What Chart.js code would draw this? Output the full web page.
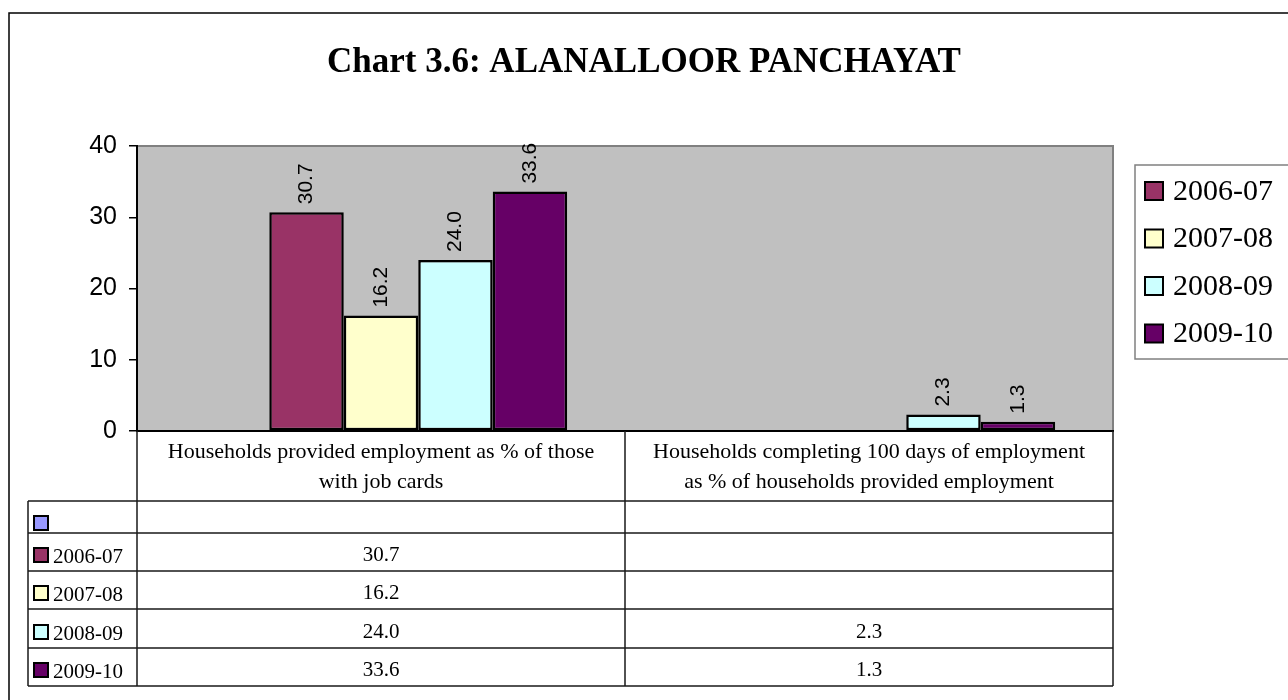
<!DOCTYPE html>
<html>
<head>
<meta charset="utf-8">
<title>Chart 3.6: ALANALLOOR PANCHAYAT</title>
<script src="https://cdn.jsdelivr.net/npm/chart.js@4.4.0/dist/chart.umd.min.js"></script>
<style>
  html, body { margin: 0; padding: 0; background: #fff; }
  #wrap { width: 1288px; height: 700px; }
</style>
</head>
<body>
<div id="wrap"><canvas id="chart" width="1288" height="700"></canvas></div>
<script>
// Chart data
const TITLE = 'Chart 3.6: ALANALLOOR PANCHAYAT';
const categories = [
  ['Households provided employment as % of those', 'with job cards'],
  ['Households completing 100 days of employment', 'as % of households provided employment']
];
const seriesLabels = ['', '2006-07', '2007-08', '2008-09', '2009-10'];
const blankRow = [null, null];
const values0607 = [30.7, null];
const values0708 = [16.2, null];
const values0809 = [24.0, 2.3];
const values0910 = [33.6, 1.3];
const yTicks = [0, 10, 20, 30, 40];

const COLORS = ['#9999FF', '#993366', '#FFFFCC', '#CCFFFF', '#660066'];
const SERIF = '"Liberation Serif", "Times New Roman", serif';
const SANS = '"Liberation Sans", Arial, sans-serif';

const seriesValues = [blankRow, values0607, values0708, values0809, values0910];

// Table rows under the axis (y of each row line)
const ROW_LINES = [501, 533, 571, 609, 648, 686];
const TABLE_LEFT = 28;

const datasets = seriesLabels.map((label, i) => ({
  label,
  data: seriesValues[i],
  backgroundColor: COLORS[i],
  borderColor: '#000',
  borderWidth: 2.5,
  borderSkipped: false,
  categoryPercentage: 0.763,
  barPercentage: 1.0
}));

// plot background + frame
const backdrop = {
  id: 'backdrop',
  beforeDraw(chart) {
    const { ctx, chartArea: a } = chart;
    ctx.save();
    ctx.fillStyle = '#fff';
    ctx.fillRect(0, 0, chart.width, chart.height);
    ctx.fillStyle = '#C0C0C0';
    ctx.fillRect(a.left, a.top, a.right - a.left, a.bottom - a.top);
    ctx.strokeStyle = '#808080';
    ctx.lineWidth = 2;
    ctx.beginPath();
    ctx.moveTo(a.left, a.top);
    ctx.lineTo(a.right, a.top);
    ctx.lineTo(a.right, a.bottom);
    ctx.stroke();
    ctx.restore();
  },
  afterDraw(chart) {
    const ctx = chart.ctx;
    ctx.save();
    // outer frame (runs past right/bottom edge in the reference)
    ctx.strokeStyle = '#000';
    ctx.lineWidth = 1.5;
    ctx.strokeRect(9, 13, 1320, 720);
    // title
    ctx.fillStyle = '#000';
    ctx.font = 'bold 35px ' + SERIF;
    ctx.textAlign = 'center';
    ctx.textBaseline = 'alphabetic';
    ctx.fillText(TITLE, 644, 72);
    ctx.restore();
  }
};

// rotated value labels above bars
const valueLabels = {
  id: 'valueLabels',
  afterDatasetsDraw(chart) {
    const ctx = chart.ctx;
    ctx.save();
    ctx.fillStyle = '#000';
    ctx.font = '21px ' + SANS;
    ctx.textAlign = 'left';
    ctx.textBaseline = 'middle';
    chart.data.datasets.forEach((ds, di) => {
      const meta = chart.getDatasetMeta(di);
      meta.data.forEach((bar, i) => {
        const v = ds.data[i];
        if (v === null || v === undefined) return;
        ctx.save();
        ctx.translate(bar.x, bar.y - 8);
        ctx.rotate(-Math.PI / 2);
        ctx.fillText(v.toFixed(1), 0, 0);
        ctx.restore();
      });
    });
    ctx.restore();
  }
};

// data table under the x axis
const dataTable = {
  id: 'dataTable',
  afterDraw(chart) {
    const { ctx, chartArea: a } = chart;
    const x = chart.scales.x;
    const half = (x.getPixelForValue(1) - x.getPixelForValue(0)) / 2;
    const mid = x.getPixelForValue(0) + half;
    const bottom = ROW_LINES[ROW_LINES.length - 1];

    ctx.save();
    ctx.strokeStyle = '#1a1a1a';
    ctx.lineWidth = 1.5;
    ctx.beginPath();
    [a.left, mid, a.right].forEach(px => {
      ctx.moveTo(px, a.bottom);
      ctx.lineTo(px, bottom);
    });
    ctx.moveTo(TABLE_LEFT, ROW_LINES[0]);
    ctx.lineTo(TABLE_LEFT, bottom);
    ROW_LINES.forEach(y => {
      ctx.moveTo(TABLE_LEFT, y);
      ctx.lineTo(a.right, y);
    });
    ctx.stroke();

    chart.data.datasets.forEach((ds, di) => {
      const rowBottom = ROW_LINES[di + 1];
      // marker
      const mSize = 14;
      const my = ds.label ? rowBottom - 9 - mSize : rowBottom - 3 - mSize;
      ctx.fillStyle = ds.backgroundColor;
      ctx.fillRect(34, my, mSize, mSize);
      ctx.strokeStyle = '#000';
      ctx.lineWidth = 2;
      ctx.strokeRect(34, my, mSize, mSize);
      // label
      ctx.fillStyle = '#000';
      ctx.font = '21px ' + SERIF;
      ctx.textAlign = 'left';
      ctx.textBaseline = 'alphabetic';
      ctx.fillText(ds.label, 53, rowBottom - 8);
      // values
      ctx.textAlign = 'center';
      ds.data.forEach((v, i) => {
        if (v === null || v === undefined) return;
        ctx.fillText(v.toFixed(1), x.getPixelForValue(i), rowBottom - 10);
      });
    });
    ctx.restore();
  }
};

// legend box on the right
const sideLegend = {
  id: 'sideLegend',
  afterDraw(chart) {
    const ctx = chart.ctx;
    const items = chart.data.datasets.filter(ds => ds.label);
    ctx.save();
    ctx.strokeStyle = '#808080';
    ctx.lineWidth = 1.5;
    ctx.strokeRect(1135, 165, 220, 194);
    ctx.font = '30px ' + SERIF;
    ctx.textAlign = 'left';
    ctx.textBaseline = 'middle';
    items.forEach((ds, i) => {
      const cy = 191 + i * 47.5;
      ctx.fillStyle = ds.backgroundColor;
      ctx.fillRect(1145, cy - 9, 18, 18);
      ctx.strokeStyle = '#000';
      ctx.lineWidth = 2;
      ctx.strokeRect(1145, cy - 9, 18, 18);
      ctx.fillStyle = '#000';
      ctx.fillText(ds.label, 1173, cy + 1);
    });
    ctx.restore();
  }
};

new Chart(document.getElementById('chart'), {
  type: 'bar',
  data: { labels: categories, datasets },
  options: {
    responsive: false,
    animation: false,
    layout: { padding: { top: 146, right: 175, bottom: 14, left: 0 } },
    plugins: {
      legend: { display: false },
      title: { display: false },
      tooltip: { enabled: false }
    },
    scales: {
      x: {
        grid: { display: false, drawTicks: false },
        border: { display: true, color: '#000', width: 2 },
        ticks: {
          color: '#000',
          font: { family: SERIF, size: 22, lineHeight: '30px' },
          padding: 6,
          autoSkip: false,
          maxRotation: 0,
          minRotation: 0
        },
        afterFit(scale) { scale.height = 255; }
      },
      y: {
        min: yTicks[0],
        max: yTicks[yTicks.length - 1],
        afterBuildTicks(scale) { scale.ticks = yTicks.map(v => ({ value: v })); },
        grid: { drawOnChartArea: false, drawTicks: true, tickLength: 8, color: '#000', lineWidth: 1.5 },
        border: { display: true, color: '#000', width: 2 },
        ticks: {
          color: '#000',
          font: { family: SANS, size: 25 },
          padding: 12
        },
        afterFit(scale) { scale.width = 137; }
      }
    }
  },
  plugins: [backdrop, valueLabels, dataTable, sideLegend]
});
</script>
</body>
</html>
